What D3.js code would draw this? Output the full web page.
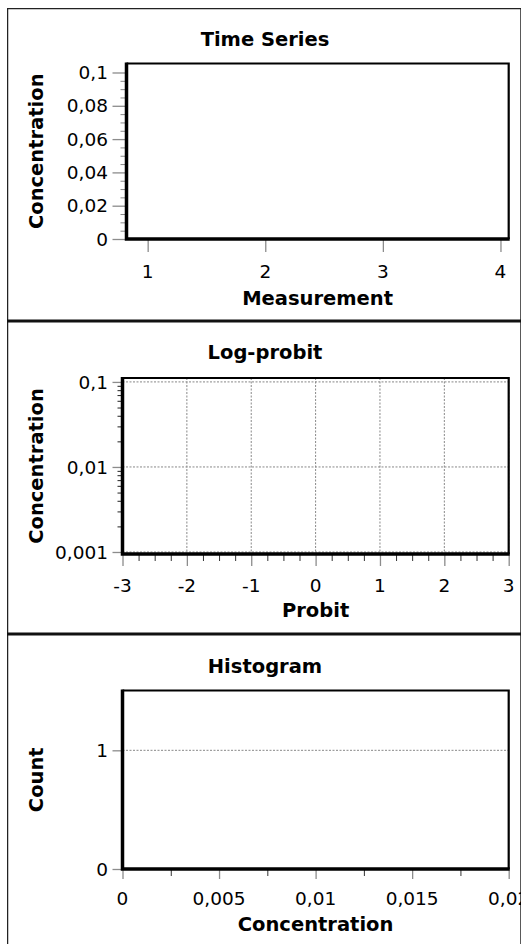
<!DOCTYPE html>
<html>
<head>
<meta charset="utf-8">
<script src="https://cdn.jsdelivr.net/npm/d3@7"></script>
<style>
  body { margin: 0; background: #fff; }
  .lbl { font-family: "DejaVu Sans", sans-serif; font-size: 19.5px; font-weight: bold; }
  .num { font-family: "DejaVu Sans", sans-serif; font-size: 18.5px; fill: #000; }
</style>
</head>
<body>
<div id="container"></div>
<script>
// Panel titles and axis labels
var panelTitles = ["Time Series", "Log-probit", "Histogram"];
var xLabels = ["Measurement", "Probit", "Concentration"];
var yLabels = ["Concentration", "Concentration", "Count"];

// Series values (the reference shows empty plots, no samples yet)
var measurements = [];
var concentrations = [];
var probits = [];
var histCounts = [];

// Tick values
var tsXTicks = [1, 2, 3, 4];
var tsYTicks = [0, 0.02, 0.04, 0.06, 0.08, 0.1];
var probitXTicks = [-3, -2, -1, 0, 1, 2, 3];
var logYTicks = [0.001, 0.01, 0.1];
var histXTicks = [0, 0.005, 0.01, 0.015, 0.02];
var histYTicks = [0, 1];

var width = 523, height = 944;

// decimal comma
function fmt(v) { return String(+v.toPrecision(6)).replace(".", ","); }

var svg = d3.select("#container").append("svg")
    .attr("width", width)
    .attr("height", height);

svg.append("clipPath").attr("id", "frameclip")
  .append("rect").attr("x", 7).attr("y", 8).attr("width", 514).attr("height", 940);

var root = svg.append("g").attr("clip-path", "url(#frameclip)");

// outer frame + separators
root.append("rect")
    .attr("x", 7.5).attr("y", 8.5).attr("width", 513.5).attr("height", 945)
    .attr("fill", "none").attr("stroke", "#222").attr("stroke-width", 1.5);
[321, 634].forEach(function(y) {
  root.append("line").attr("x1", 7).attr("x2", 522).attr("y1", y).attr("y2", y)
      .attr("stroke", "#111").attr("stroke-width", 3);
});

var panels = [
  { // time series
    top: 63.5, bottom: 239, left: 126.5, right: 508.7,
    x: d3.scaleLinear().domain([0.82, 4.07]),
    y: d3.scaleLinear().domain([0, 0.1054]),
    xTicks: tsXTicks, xMinor: [], xMajorLen: 13, xMinorLen: 0,
    yTicks: tsYTicks, yMinor: d3.range(0.005, 0.1, 0.005).filter(function(v) { return Math.abs(v / 0.02 - Math.round(v / 0.02)) > 1e-6; }),
    yMajorLen: 14, yMinorLen: 6,
    xGrid: [], yGrid: [],
    titleY: 46, xLabY: 278, xTitleY: 305
  },
  { // log-probit
    top: 378, bottom: 554, left: 122.5, right: 508.7,
    x: d3.scaleLinear().domain([-3, 3]),
    y: d3.scaleLog().domain([0.000947, 0.1112]),
    xTicks: probitXTicks, xMinor: d3.range(-3, 3, 0.25).filter(function(v) { return v % 1 !== 0; }),
    xMajorLen: 12, xMinorLen: 7,
    yTicks: logYTicks,
    yMinor: [0.001, 0.01].reduce(function(a, d) { return a.concat(d3.range(2, 10).map(function(k) { return k * d; })); }, []),
    yMajorLen: 10, yMinorLen: 5,
    xGrid: probitXTicks, yGrid: logYTicks,
    titleY: 359, xLabY: 592, xTitleY: 617
  },
  { // histogram
    top: 690.5, bottom: 869, left: 122.5, right: 508.7,
    x: d3.scaleLinear().domain([0, 0.02]),
    y: d3.scaleLinear().domain([0, 1.504]),
    xTicks: histXTicks, xMinor: [0.0025, 0.0075, 0.0125, 0.0175],
    xMajorLen: 10, xMinorLen: 7,
    yTicks: histYTicks, yMinor: [], yMajorLen: 10, yMinorLen: 0,
    xGrid: [], yGrid: [1],
    titleY: 673, xLabY: 905, xTitleY: 931
  }
];

panels.forEach(function(p, i) {
  p.x.range([p.left, p.right]);
  p.y.range([p.bottom, p.top]);
  var g = root.append("g");

  // title
  g.append("text").attr("class", "lbl")
      .attr("x", 265).attr("y", p.titleY)
      .attr("text-anchor", "middle")
      .text(panelTitles[i]);

  // dotted grid
  g.append("g").selectAll("line").data(p.xGrid).enter().append("line")
      .attr("x1", function(d) { return p.x(d); }).attr("x2", function(d) { return p.x(d); })
      .attr("y1", p.top).attr("y2", p.bottom)
      .attr("stroke", "#888").attr("stroke-width", 1).attr("stroke-dasharray", "2,1.5");
  g.append("g").selectAll("line").data(p.yGrid).enter().append("line")
      .attr("y1", function(d) { return p.y(d); }).attr("y2", function(d) { return p.y(d); })
      .attr("x1", p.left).attr("x2", p.right)
      .attr("stroke", "#888").attr("stroke-width", 1).attr("stroke-dasharray", "2,1.5");

  // minor ticks (black, short)
  if (p.xMinor.length) {
    g.append("g").attr("transform", "translate(0," + p.bottom + ")")
      .call(d3.axisBottom(p.x).tickValues(p.xMinor).tickSize(p.xMinorLen).tickFormat(""))
      .call(function(a) { a.select(".domain").remove(); a.selectAll("line").attr("stroke", "#333"); });
  }
  if (p.yMinor.length) {
    g.append("g").attr("transform", "translate(" + p.left + ",0)")
      .call(d3.axisLeft(p.y).tickValues(p.yMinor).tickSize(p.yMinorLen).tickFormat(""))
      .call(function(a) { a.select(".domain").remove(); a.selectAll("line").attr("stroke", i === 0 ? "#888" : "#222"); });
  }

  // major ticks (grey)
  var xa = g.append("g").attr("transform", "translate(0," + p.bottom + ")")
      .call(d3.axisBottom(p.x).tickValues(p.xTicks).tickSize(p.xMajorLen).tickFormat(""));
  xa.select(".domain").remove();
  xa.selectAll("line").attr("stroke", "#8c8c8c").attr("stroke-width", 1.3);

  var ya = g.append("g").attr("transform", "translate(" + p.left + ",0)")
      .call(d3.axisLeft(p.y).tickValues(p.yTicks).tickSize(p.yMajorLen).tickFormat(""));
  ya.select(".domain").remove();
  ya.selectAll("line").attr("stroke", "#8c8c8c").attr("stroke-width", 1.3);

  // tick labels
  g.append("g").selectAll("text").data(p.xTicks).enter().append("text")
      .attr("class", "num")
      .attr("font-size", "18.5px")
      .attr("x", function(d) { return p.x(d); })
      .attr("y", p.xLabY)
      .attr("text-anchor", "middle")
      .text(fmt);
  g.append("g").selectAll("text").data(p.yTicks).enter().append("text")
      .attr("class", "num")
      .attr("font-size", "18.5px")
      .attr("x", 108)
      .attr("y", function(d) { return p.y(d); })
      .attr("dy", "0.36em")
      .attr("text-anchor", "end")
      .text(fmt);

  // frame: thin top/right, heavy left/bottom axis lines
  g.append("path")
      .attr("d", "M" + p.left + "," + p.top + "H" + p.right + "V" + p.bottom)
      .attr("fill", "none").attr("stroke", "#000").attr("stroke-width", 2.2);
  g.append("path")
      .attr("d", "M" + p.left + "," + (p.top - 1) + "V" + p.bottom + "H" + (p.right + 1))
      .attr("fill", "none").attr("stroke", "#000").attr("stroke-width", 3.5);

  // axis titles
  g.append("text").attr("class", "lbl")
      .attr("x", (p.left + p.right) / 2).attr("y", p.xTitleY)
      .attr("text-anchor", "middle")
      .text(xLabels[i]);
  g.append("text").attr("class", "lbl")
      .attr("transform", "translate(43," + ((p.top + p.bottom) / 2) + ") rotate(-90)")
      .attr("text-anchor", "middle")
      .text(yLabels[i]);
});

// data layers (empty in the reference)
var tsLine = d3.line()
    .x(function(d, k) { return panels[0].x(measurements[k]); })
    .y(function(d) { return panels[0].y(d); });
root.append("path").datum(concentrations)
    .attr("d", concentrations.length ? tsLine : null)
    .attr("fill", "none").attr("stroke", "#000");

root.append("g").selectAll("circle").data(probits).enter().append("circle")
    .attr("cx", function(d) { return panels[1].x(d); })
    .attr("cy", function(d, k) { return panels[1].y(concentrations[k]); })
    .attr("r", 3);

root.append("g").selectAll("rect").data(histCounts).enter().append("rect")
    .attr("x", function(d) { return panels[2].x(d.x0); })
    .attr("width", function(d) { return panels[2].x(d.x1) - panels[2].x(d.x0); })
    .attr("y", function(d) { return panels[2].y(d.count); })
    .attr("height", function(d) { return panels[2].bottom - panels[2].y(d.count); })
    .attr("fill", "#999");
</script>
</body>
</html>
